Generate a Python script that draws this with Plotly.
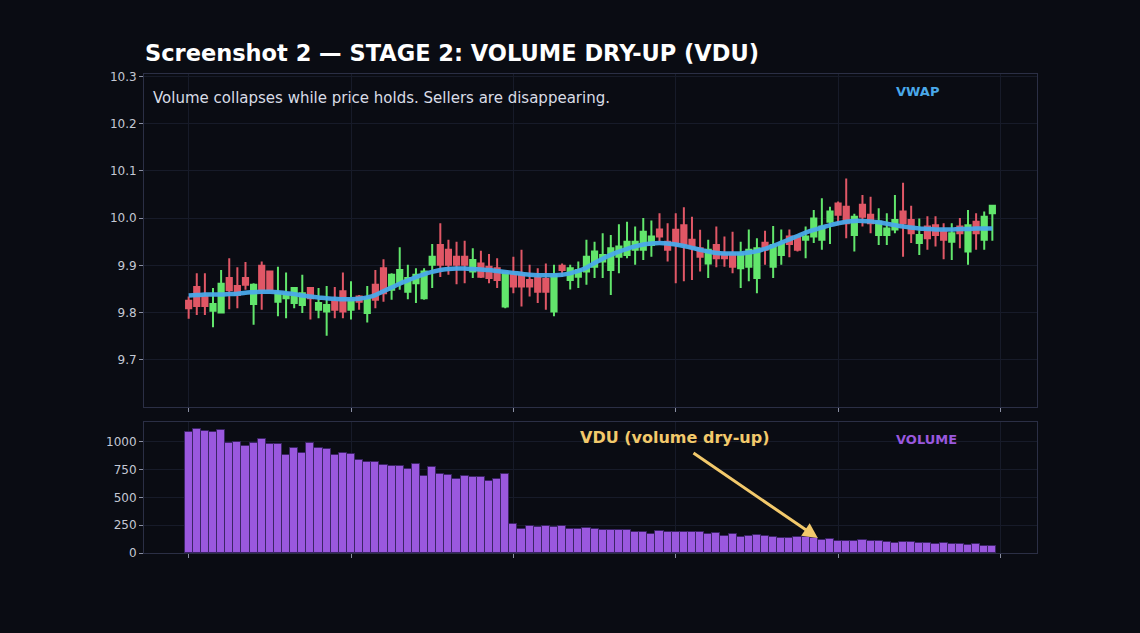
import plotly.graph_objects as go

idx = list(range(100))

opens = [9.825, 9.854, 9.834, 9.804, 9.800, 9.873, 9.856, 9.873, 9.818, 9.899,
         9.887, 9.823, 9.830, 9.820, 9.816, 9.852, 9.806, 9.802, 9.823, 9.845,
         9.806, 9.834, 9.799, 9.859, 9.894, 9.848, 9.862, 9.844, 9.862, 9.830,
         9.901, 9.943, 9.933, 9.918, 9.918, 9.887, 9.904, 9.897, 9.894, 9.813,
         9.880, 9.880, 9.869, 9.873, 9.871, 9.802, 9.899, 9.869, 9.876, 9.887,
         9.897, 9.908, 9.890, 9.918, 9.922, 9.933, 9.933, 9.943, 9.976, 9.950,
         9.975, 9.985, 9.954, 9.936, 9.904, 9.943, 9.925, 9.925, 9.894, 9.897,
         9.873, 9.948, 9.897, 9.922, 9.961, 9.961, 9.954, 9.961, 9.954, 9.992,
         10.031, 10.024, 9.964, 10.028, 10.007, 9.964, 9.964, 9.976, 10.014, 9.996,
         9.947, 9.982, 9.985, 9.971, 9.950, 9.982, 9.929, 9.992, 9.954, 10.010]
highs = [9.834, 9.883, 9.883, 9.852, 9.890, 9.915, 9.896, 9.907, 9.862, 9.908,
         9.889, 9.897, 9.885, 9.854, 9.880, 9.854, 9.852, 9.856, 9.854, 9.885,
         9.866, 9.837, 9.856, 9.890, 9.913, 9.883, 9.938, 9.901, 9.894, 9.894,
         9.945, 9.989, 9.954, 9.950, 9.952, 9.936, 9.931, 9.924, 9.915, 9.887,
         9.918, 9.933, 9.901, 9.894, 9.904, 9.901, 9.904, 9.901, 9.908, 9.954,
         9.950, 9.968, 9.964, 9.987, 9.992, 9.982, 10.000, 9.995, 10.010, 9.989,
         10.010, 10.023, 10.003, 9.975, 9.954, 9.982, 9.961, 9.971, 9.950, 9.976,
         9.957, 9.973, 9.983, 9.976, 9.976, 9.964, 9.982, 10.017, 10.042, 10.024,
         10.035, 10.084, 10.009, 10.049, 10.045, 10.021, 10.010, 10.049, 10.075, 10.026,
         9.999, 10.004, 10.004, 9.989, 9.989, 10.000, 10.017, 10.010, 10.014, 10.028]
lows = [9.787, 9.795, 9.795, 9.769, 9.799, 9.807, 9.809, 9.848, 9.774, 9.806,
        9.846, 9.792, 9.788, 9.809, 9.799, 9.785, 9.788, 9.751, 9.788, 9.788,
        9.785, 9.806, 9.779, 9.809, 9.823, 9.827, 9.848, 9.828, 9.820, 9.827,
        9.852, 9.875, 9.880, 9.860, 9.862, 9.873, 9.873, 9.862, 9.852, 9.809,
        9.841, 9.813, 9.834, 9.820, 9.806, 9.792, 9.876, 9.849, 9.852, 9.859,
        9.873, 9.873, 9.837, 9.883, 9.915, 9.901, 9.911, 9.918, 9.950, 9.908,
        9.862, 9.866, 9.869, 9.887, 9.873, 9.896, 9.897, 9.883, 9.852, 9.866,
        9.841, 9.901, 9.873, 9.901, 9.917, 9.929, 9.915, 9.947, 9.933, 9.945,
        9.985, 9.957, 9.929, 9.982, 9.968, 9.943, 9.943, 9.968, 9.918, 9.947,
        9.922, 9.933, 9.940, 9.913, 9.911, 9.936, 9.901, 9.933, 9.933, 9.952]
closes = [9.809, 9.814, 9.814, 9.818, 9.861, 9.847, 9.837, 9.859, 9.859, 9.847,
          9.848, 9.842, 9.841, 9.852, 9.841, 9.830, 9.820, 9.816, 9.806, 9.802,
          9.827, 9.823, 9.830, 9.827, 9.841, 9.880, 9.890, 9.873, 9.880, 9.887,
          9.918, 9.901, 9.901, 9.901, 9.901, 9.911, 9.876, 9.873, 9.869, 9.885,
          9.855, 9.855, 9.855, 9.844, 9.844, 9.880, 9.890, 9.894, 9.890, 9.918,
          9.929, 9.922, 9.936, 9.940, 9.950, 9.950, 9.971, 9.961, 9.961, 9.933,
          9.943, 9.943, 9.936, 9.918, 9.933, 9.915, 9.915, 9.897, 9.925, 9.933,
          9.936, 9.933, 9.943, 9.947, 9.945, 9.933, 9.961, 9.999, 9.982, 10.014,
          10.007, 9.989, 10.003, 10.003, 9.989, 9.992, 9.978, 9.996, 9.989, 9.968,
          9.964, 9.957, 9.964, 9.954, 9.968, 9.968, 9.985, 9.968, 10.003, 10.026]

vwap = [9.836, 9.837, 9.838, 9.838, 9.838, 9.839, 9.840, 9.842, 9.843, 9.844,
        9.844, 9.843, 9.841, 9.839, 9.836, 9.834, 9.832, 9.830, 9.829, 9.828,
        9.828, 9.829, 9.832, 9.837, 9.845, 9.853, 9.861, 9.868, 9.875, 9.881,
        9.886, 9.890, 9.892, 9.893, 9.893, 9.892, 9.891, 9.890, 9.888, 9.886,
        9.884, 9.882, 9.880, 9.879, 9.879, 9.879, 9.880, 9.883, 9.888, 9.895,
        9.905, 9.914, 9.922, 9.929, 9.935, 9.940, 9.944, 9.946, 9.947, 9.946,
        9.944, 9.941, 9.937, 9.933, 9.929, 9.926, 9.925, 9.925, 9.925, 9.927,
        9.930, 9.935, 9.941, 9.948, 9.955, 9.962, 9.969, 9.975, 9.980, 9.985,
        9.989, 9.992, 9.994, 9.994, 9.993, 9.991, 9.988, 9.985, 9.982, 9.980,
        9.978, 9.977, 9.976, 9.976, 9.976, 9.977, 9.977, 9.978, 9.978, 9.978]

volume = [1093, 1117, 1099, 1087, 1108, 988, 997, 964, 994, 1027,
          979, 985, 883, 946, 898, 988, 943, 934, 883, 898,
          889, 838, 817, 823, 793, 784, 784, 754, 802, 697,
          778, 712, 703, 664, 697, 682, 688, 649, 664, 712,
          261, 213, 243, 237, 240, 231, 240, 219, 213, 222,
          216, 204, 204, 207, 204, 192, 186, 171, 201, 186,
          192, 186, 192, 186, 174, 177, 153, 168, 141, 156,
          159, 150, 141, 135, 135, 147, 141, 132, 117, 126,
          105, 111, 108, 117, 108, 108, 102, 93, 99, 99,
          87, 87, 81, 87, 81, 81, 75, 81, 60, 60]

price_ticks = [9.7, 9.8, 9.9, 10.0, 10.1, 10.2, 10.3]
vol_ticks = [0, 250, 500, 750, 1000]
x_ticks = [0, 20, 40, 60, 80, 100]

title_text = "Screenshot 2 — STAGE 2: VOLUME DRY-UP (VDU)"
subtitle_text = "Volume collapses while price holds. Sellers are disappearing."

BG = "#0a0c13"
GRID = "#171b29"
BORDER = "#2b2f45"
TICKC = "#c4c8d4"
RED = "#e05766"
GREEN = "#62e66c"
PURPLE = "#9a58de"
BLUE = "#4aa9ea"
GOLD = "#f2c96b"
FONT = "DejaVu Sans"

fig = go.Figure()

fig.add_trace(go.Candlestick(
    x=idx, open=opens, high=highs, low=lows, close=closes,
    increasing=dict(line=dict(color=GREEN, width=2), fillcolor=GREEN),
    decreasing=dict(line=dict(color=RED, width=2), fillcolor=RED),
    whiskerwidth=0, xaxis="x", yaxis="y", showlegend=False,
))
fig.add_trace(go.Scatter(
    x=idx, y=vwap, mode="lines", line=dict(color=BLUE, width=4.5, shape="spline"),
    xaxis="x", yaxis="y", showlegend=False, opacity=0.95,
))
fig.add_trace(go.Bar(
    x=idx, y=volume, width=1.0, marker=dict(color=PURPLE, line=dict(color="#3b2566", width=1)),
    xaxis="x2", yaxis="y2", showlegend=False,
))

axis_common = dict(
    showgrid=True, gridcolor=GRID, gridwidth=1, zeroline=False,
    showline=True, linecolor=BORDER, linewidth=1, mirror=True,
    ticks="outside", ticklen=4, tickcolor="#8a8fa3",
    tickfont=dict(family=FONT, size=12, color=TICKC),
)

fig.update_layout(
    width=1140, height=633,
    paper_bgcolor=BG, plot_bgcolor=BG,
    margin=dict(l=144, r=103, t=74, b=80),
    font=dict(family=FONT, color=TICKC),
    title=dict(text="<b>" + title_text + "</b>", x=145/1140, xanchor="left",
               y=1 - 53/633, yanchor="middle", xref="container", yref="container",
               font=dict(family=FONT, size=22.5, color="#ffffff")),
    xaxis=dict(domain=[0, 1], range=[-5.5, 104.5], tickvals=x_ticks, showticklabels=False,
               rangeslider=dict(visible=False), anchor="y", **axis_common),
    yaxis=dict(domain=[0.3048, 1], range=[9.6, 10.305], tickvals=price_ticks,
               tickformat=".1f", anchor="x", **axis_common),
    xaxis2=dict(domain=[0, 1], range=[-5.5, 104.5], tickvals=x_ticks, showticklabels=False,
                anchor="y2", **axis_common),
    yaxis2=dict(domain=[0, 0.2735], range=[0, 1180], tickvals=vol_ticks, anchor="x2",
                **axis_common),
    bargap=0,
    boxgap=0.36,
    boxgroupgap=0,
    annotations=[
        dict(text=subtitle_text, xref="x domain", yref="y domain", x=0.008, y=0.928,
             xanchor="left", yanchor="middle", showarrow=False,
             font=dict(family=FONT, size=15, color="#d9dce6")),
        dict(text="<b>VWAP</b>", xref="x domain", yref="y domain", x=0.866, y=0.946,
             xanchor="center", yanchor="middle", showarrow=False,
             font=dict(family=FONT, size=13, color=BLUE)),
        dict(text="<b>VOLUME</b>", xref="x2 domain", yref="y2 domain", x=0.876, y=0.863,
             xanchor="center", yanchor="middle", showarrow=False,
             font=dict(family=FONT, size=13, color=PURPLE)),
        dict(text="<b>VDU (volume dry-up)</b>", xref="x2", yref="y2", x=59.9, y=1036,
             xanchor="center", yanchor="middle", showarrow=False,
             font=dict(family=FONT, size=16, color=GOLD)),
        dict(text="", xref="x2", yref="y2", x=77.5, y=135, ax=62.0, ay=910,
             axref="x2", ayref="y2", showarrow=True, arrowhead=2, arrowsize=1,
             arrowwidth=3, arrowcolor=GOLD),
    ],
)

fig.write_html(
    "out.html",
    config={"displayModeBar": False},
    post_script="document.body.style.margin='0';document.body.style.background='#0a0c13';",
)
